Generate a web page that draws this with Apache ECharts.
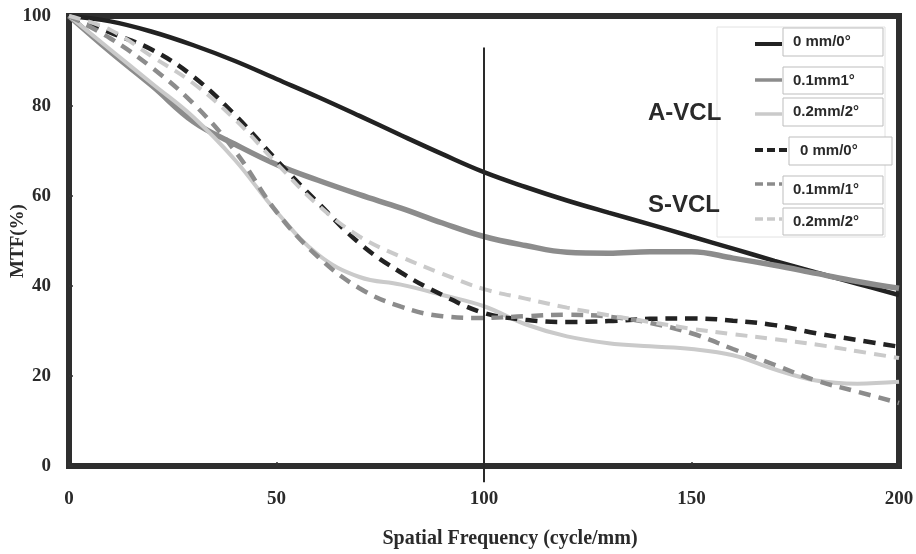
<!DOCTYPE html>
<html>
<head>
<meta charset="utf-8">
<script src="https://cdn.jsdelivr.net/npm/echarts@6/dist/echarts.min.js"></script>
<style>html,body{margin:0;padding:0;background:#fff;}#c{width:916px;height:554px;}</style>
</head>
<body>
<div id="c"></div>
<script>
var xValues = [0,10,20,30,40,50,60,70,80,90,100,110,120,130,140,150,160,170,180,190,200];
var xTicks = [0,50,100,150,200];
var yTicks = [0,20,40,60,80,100];
var A0 = [100,98.8,96.5,93.5,90,86,82,77.8,73.5,69.3,65.3,62,59,56.3,53.7,51,48.3,45.6,43,40.5,38];
var A1 = [100,92,84.5,76.5,71.5,67,63.5,60.3,57.3,54,51,49,47.5,47.3,47.6,47.6,46.2,44.6,42.8,41,39.5];
var A2 = [100,92.5,85,77.5,68,56.5,47,42,40.3,38,35.5,31.5,28.8,27.3,26.6,26,24.6,21.5,19,18.3,18.7];
var S0 = [100,96.3,92.5,86.5,78,68,58.5,49.5,43,38,34,32.5,32,32.2,32.7,32.8,32.3,31.3,29.5,28,26.5];
var S1 = [100,95,88.5,80.5,70,56.5,46.5,39.5,35.4,33.3,32.9,33.3,33.6,33.2,31.8,29.5,26,22.5,19,16.5,14];
var S2 = [100,96.9,91,85,77,67.3,58,51,46.5,42.7,39.3,37.2,35.2,33.5,32,30.5,29.3,28.2,27,25.5,24];
var refLine = [[100,-3.6],[100,93]];
var legendLabels = ['0 mm/0°','0.1mm1°','0.2mm/2°','0 mm/0°','0.1mm/1°','0.2mm/2°'];
var groupLabels = ['A-VCL','S-VCL'];
var yAxisName = 'MTF(%)';

var BLACK = '#222222', GRAY = '#8c8c8c', LIGHT = '#cacaca';
function pairs(arr){ return xValues.map(function(x,i){ return [x, arr[i]]; }); }
function mk(name, arr, color, width, dashed){
  return {
    name: name, type: 'line', data: pairs(arr), smooth: 0.4, symbol: 'none',
    lineStyle: { color: color, width: width, type: dashed ? [12,8] : 'solid', cap: 'butt' },
    silent: true, z: dashed ? 4 : 3
  };
}
var serif = '"Liberation Serif","Times New Roman",serif';
var sans = '"Liberation Sans",Arial,sans-serif';

var chart = echarts.init(document.getElementById('c'));

var legendRows = [
  {y:44, x1:755, x2:782, bx:783, by:28, bw:100, bh:28, tx:793, color:BLACK, w:4, dash:null},
  {y:80, x1:755, x2:782, bx:783, by:67, bw:100, bh:27, tx:793, color:GRAY, w:3.5, dash:null},
  {y:114, x1:755, x2:782, bx:783, by:98, bw:100, bh:28, tx:793, color:LIGHT, w:3.5, dash:null},
  {y:150, x1:755, x2:788, bx:789, by:137, bw:103, bh:28, tx:800, color:BLACK, w:4, dash:[8,4]},
  {y:184, x1:755, x2:782, bx:783, by:176, bw:100, bh:28, tx:793, color:GRAY, w:3.5, dash:[8,4]},
  {y:219, x1:755, x2:782, bx:783, by:208, bw:100, bh:27, tx:793, color:LIGHT, w:3.5, dash:[8,4]}
];
var graphics = [
  {type:'rect', shape:{x:717, y:27, width:168, height:210}, style:{fill:'rgba(255,255,255,0.85)', stroke:'#e2e2e2', lineWidth:1}, z:10}
];
legendRows.forEach(function(r, i){
  graphics.push({type:'line', shape:{x1:r.x1, y1:r.y, x2:r.x2, y2:r.y}, style:{stroke:r.color, lineWidth:r.w, lineDash:r.dash}, z:11});
  graphics.push({type:'rect', shape:{x:r.bx, y:r.by, width:r.bw, height:r.bh}, style:{fill:'#fff', stroke:'#bdbdbd', lineWidth:1}, z:11});
  graphics.push({type:'text', x:r.tx, y:r.by + r.bh/2, style:{text:legendLabels[i], font:'bold 15px '+sans, fill:'#2a2a2a', verticalAlign:'middle'}, z:12});
});
graphics.push({type:'text', x:648, y:113, style:{text:groupLabels[0], font:'bold 24px '+sans, fill:'#2a2a2a', verticalAlign:'middle'}, z:12});
graphics.push({type:'text', x:648, y:205, style:{text:groupLabels[1], font:'bold 24px '+sans, fill:'#2a2a2a', verticalAlign:'middle'}, z:12});
graphics.push({type:'text', x:18, y:241, rotation:Math.PI/2, style:{text:yAxisName, font:'bold 19px '+serif, fill:'#2a2a2a', align:'center', verticalAlign:'middle'}, z:12});

chart.setOption({
  backgroundColor: '#ffffff',
  animation: false,
  grid: { left: 69, right: 17, top: 16, bottom: 88, containLabel: false, outerBoundsMode: 'none',
    show: true, borderColor: '#2e2e2e', borderWidth: 6, backgroundColor: 'transparent' },
  xAxis: {
    type: 'value', min: 0, max: 200, interval: 50,
    name: 'Spatial Frequency (cycle/mm)', nameLocation: 'middle', nameGap: 63,
    nameTextStyle: { fontFamily: serif, fontWeight: 'bold', fontSize: 20, color: '#2a2a2a', padding: [0,0,0,52] },
    axisLine: { show: false },
    axisTick: { show: true, inside: true, length: 4, lineStyle: { color: '#333', width: 1.5 } },
    axisLabel: { fontFamily: serif, fontWeight: 'bold', fontSize: 19, color: '#2a2a2a', margin: 24,
      formatter: function(v){ return xTicks.indexOf(v) >= 0 ? String(v) : ''; } },
    splitLine: { show: false }
  },
  yAxis: {
    type: 'value', min: 0, max: 100, interval: 20,
    axisLine: { show: false },
    axisTick: { show: true, inside: true, length: 4, lineStyle: { color: '#333', width: 1.5 } },
    axisLabel: { fontFamily: serif, fontWeight: 'bold', fontSize: 19, color: '#2a2a2a', margin: 18,
      formatter: function(v){ return yTicks.indexOf(v) >= 0 ? String(v) : ''; } },
    splitLine: { show: false }
  },
  series: [
    mk('A 0 mm/0°', A0, BLACK, 4.5, false),
    mk('A 0.1mm1°', A1, GRAY, 5.5, false),
    mk('A 0.2mm/2°', A2, LIGHT, 4, false),
    mk('S 0 mm/0°', S0, BLACK, 4.5, true),
    mk('S 0.1mm/1°', S1, GRAY, 4.5, true),
    mk('S 0.2mm/2°', S2, LIGHT, 4, true),
    { name: 'ref', type: 'line', data: refLine, symbol: 'none', clip: false, silent: true,
      lineStyle: { color: '#2a2a2a', width: 2 }, z: 5 }
  ],
  graphic: graphics
});
</script>
</body>
</html>
